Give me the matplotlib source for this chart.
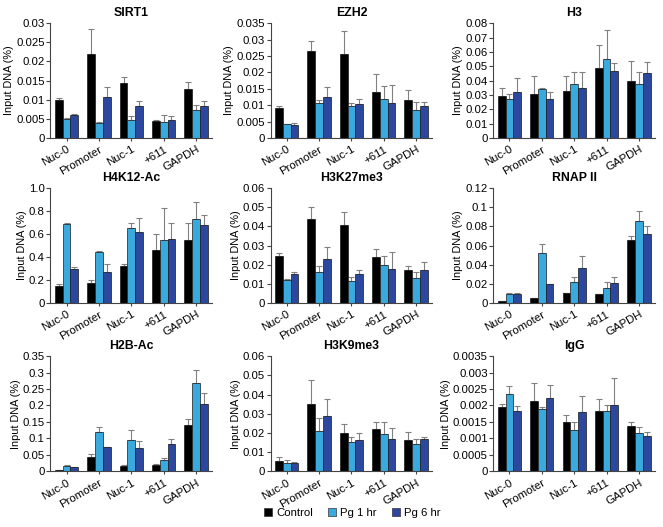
import numpy as np
import matplotlib
matplotlib.use("Agg")
import matplotlib.pyplot as plt
from matplotlib.lines import Line2D
from matplotlib.ticker import FuncFormatter

plt.rcParams['font.family'] = ['Liberation Sans', 'DejaVu Sans']

# data
regions = ["Nuc-0", "Promoter", "Nuc-1", "+611", "GAPDH"]
series = ["Control", "Pg 1 hr", "Pg 6 hr"]
colors = ["#000000", "#3aa9de", "#2b479e"]

titles = ["SIRT1", "EZH2", "H3",
          "H4K12-Ac", "H3K27me3", "RNAP II",
          "H2B-Ac", "H3K9me3", "IgG"]
ymax = [0.03, 0.035, 0.08, 1.0, 0.06, 0.12, 0.35, 0.06, 0.0035]
ystep = [0.005, 0.005, 0.01, 0.2, 0.01, 0.02, 0.05, 0.01, 0.0005]

sirt1 = [[0.010, 0.022, 0.0145, 0.0045, 0.0128],
         [0.005, 0.004, 0.0047, 0.0043, 0.0073],
         [0.0059, 0.0107, 0.0083, 0.0048, 0.0084]]
sirt1_err = [[0.0005, 0.0065, 0.0015, 0.0002, 0.0019],
             [0.0003, 0.0003, 0.001, 0.0016, 0.0013],
             [0.0003, 0.0027, 0.0015, 0.0009, 0.0013]]

ezh2 = [[0.0093, 0.0266, 0.0255, 0.0141, 0.0115],
        [0.0042, 0.0107, 0.0098, 0.0120, 0.0085],
        [0.0040, 0.0126, 0.0103, 0.0107, 0.0099]]
ezh2_err = [[0.0006, 0.0031, 0.0071, 0.0054, 0.0031],
            [0.0002, 0.0010, 0.0009, 0.0039, 0.0024],
            [0.0005, 0.0029, 0.0016, 0.0054, 0.0012]]

h3 = [[0.029, 0.031, 0.033, 0.049, 0.040],
      [0.027, 0.034, 0.038, 0.055, 0.038],
      [0.032, 0.027, 0.035, 0.047, 0.045]]
h3_err = [[0.006, 0.012, 0.010, 0.016, 0.014],
          [0.004, 0.001, 0.008, 0.020, 0.008],
          [0.010, 0.005, 0.011, 0.005, 0.008]]

h4k12 = [[0.15, 0.17, 0.32, 0.46, 0.55],
         [0.69, 0.44, 0.65, 0.55, 0.73],
         [0.30, 0.27, 0.62, 0.56, 0.68]]
h4k12_err = [[0.015, 0.03, 0.02, 0.14, 0.15],
             [0.005, 0.01, 0.05, 0.28, 0.15],
             [0.01, 0.07, 0.12, 0.14, 0.09]]

h3k27 = [[0.0245, 0.044, 0.0405, 0.024, 0.017],
         [0.012, 0.016, 0.0115, 0.020, 0.013],
         [0.015, 0.023, 0.015, 0.018, 0.017]]
h3k27_err = [[0.0018, 0.0063, 0.007, 0.004, 0.0025],
             [0.0003, 0.0035, 0.002, 0.0045, 0.003],
             [0.0012, 0.0062, 0.002, 0.0085, 0.0045]]

rnap = [[0.002, 0.005, 0.010, 0.009, 0.066],
        [0.009, 0.052, 0.022, 0.016, 0.086],
        [0.009, 0.020, 0.037, 0.021, 0.072]]
rnap_err = [[0.0, 0.0, 0.0, 0.0, 0.004],
            [0.001, 0.010, 0.005, 0.006, 0.010],
            [0.001, 0.0, 0.012, 0.006, 0.008]]

h2b = [[0.002, 0.043, 0.017, 0.019, 0.142],
       [0.016, 0.120, 0.096, 0.033, 0.268],
       [0.013, 0.074, 0.071, 0.082, 0.204]]
h2b_err = [[0.0, 0.010, 0.001, 0.003, 0.016],
           [0.002, 0.013, 0.030, 0.008, 0.040],
           [0.001, 0.001, 0.020, 0.015, 0.033]]

h3k9 = [[0.0055, 0.035, 0.020, 0.022, 0.0165],
        [0.0045, 0.021, 0.015, 0.0195, 0.014],
        [0.0043, 0.029, 0.0165, 0.017, 0.017]]
h3k9_err = [[0.002, 0.0125, 0.0045, 0.0035, 0.004],
            [0.0015, 0.007, 0.003, 0.006, 0.003],
            [0.0005, 0.0085, 0.0035, 0.0055, 0.001]]

igg = [[0.00195, 0.00213, 0.0015, 0.00183, 0.00136],
       [0.00235, 0.00188, 0.00125, 0.00183, 0.00117],
       [0.00184, 0.00222, 0.0018, 0.0020, 0.00108]]
igg_err = [[0.0001, 0.00055, 0.0002, 0.00038, 0.00014],
           [0.00023, 0.00007, 0.00025, 0.00018, 0.00018],
           [0.00015, 0.0004, 0.0005, 0.00085, 0.0001]]

values = [sirt1, ezh2, h3, h4k12, h3k27, rnap, h2b, h3k9, igg]
errors = [sirt1_err, ezh2_err, h3_err, h4k12_err, h3k27_err, rnap_err,
          h2b_err, h3k9_err, igg_err]

fig = plt.figure(figsize=(6.63, 5.27), dpi=100)

lefts = [0.076, 0.408, 0.744]
bottoms = [0.738, 0.425, 0.106]
w, h = 0.244, 0.218

x = np.arange(len(regions))
bw = 0.24
fs = 8.2

for i in range(9):
    r, c = divmod(i, 3)
    ax = fig.add_axes([lefts[c], bottoms[r], w, h])
    for s in range(3):
        vals = np.array(values[i][s])
        err = np.array(errors[i][s])
        ax.bar(x + (s - 1) * bw, vals, bw, color=colors[s],
               edgecolor="#1a1a1a", linewidth=0.5, zorder=2)
        ax.errorbar(x + (s - 1) * bw, vals, yerr=[np.zeros_like(err), err],
                    fmt="none", ecolor="#808080", elinewidth=0.8,
                    capsize=2.2, capthick=0.8, zorder=1)
    ax.set_xlim(-0.5, 4.5)
    ax.set_ylim(0, ymax[i])
    ax.set_yticks(np.arange(0, ymax[i] + ystep[i] / 2, ystep[i]))
    if titles[i] == "H4K12-Ac":
        fmt = lambda v, p: "0" if abs(v) < 1e-12 else f"{v:.1f}"
    else:
        fmt = lambda v, p: "0" if abs(v) < 1e-12 else f"{round(v, 6):g}"
    ax.yaxis.set_major_formatter(FuncFormatter(fmt))
    ax.set_xticks(x)
    ax.set_xticklabels(regions, rotation=30, ha="right",
                       rotation_mode="anchor", fontsize=fs)
    ax.tick_params(axis="y", labelsize=fs, length=3, width=0.8,
                   color="#444444", pad=1)
    ax.tick_params(axis="x", length=2.5, width=0.8, color="#444444", pad=2)
    for sp in ["top", "right"]:
        ax.spines[sp].set_visible(False)
    for sp in ["left", "bottom"]:
        ax.spines[sp].set_linewidth(0.8)
        ax.spines[sp].set_color("#444444")
    ax.set_ylabel("Input DNA (%)", fontsize=7.8, labelpad=1.5)
    ax.set_title(titles[i], fontsize=8.8, fontweight="bold", pad=5)

handles = [Line2D([], [], marker="s", linestyle="none", markersize=5.5,
                  markerfacecolor=colors[s], markeredgecolor="#333333",
                  markeredgewidth=0.5) for s in range(3)]
fig.legend(handles, series, loc="center", bbox_to_anchor=(0.53, 0.026),
           ncol=3, frameon=False, fontsize=fs, handletextpad=0.2,
           columnspacing=1.2, handlelength=1.0)

fig.savefig("out.png", dpi=100)
